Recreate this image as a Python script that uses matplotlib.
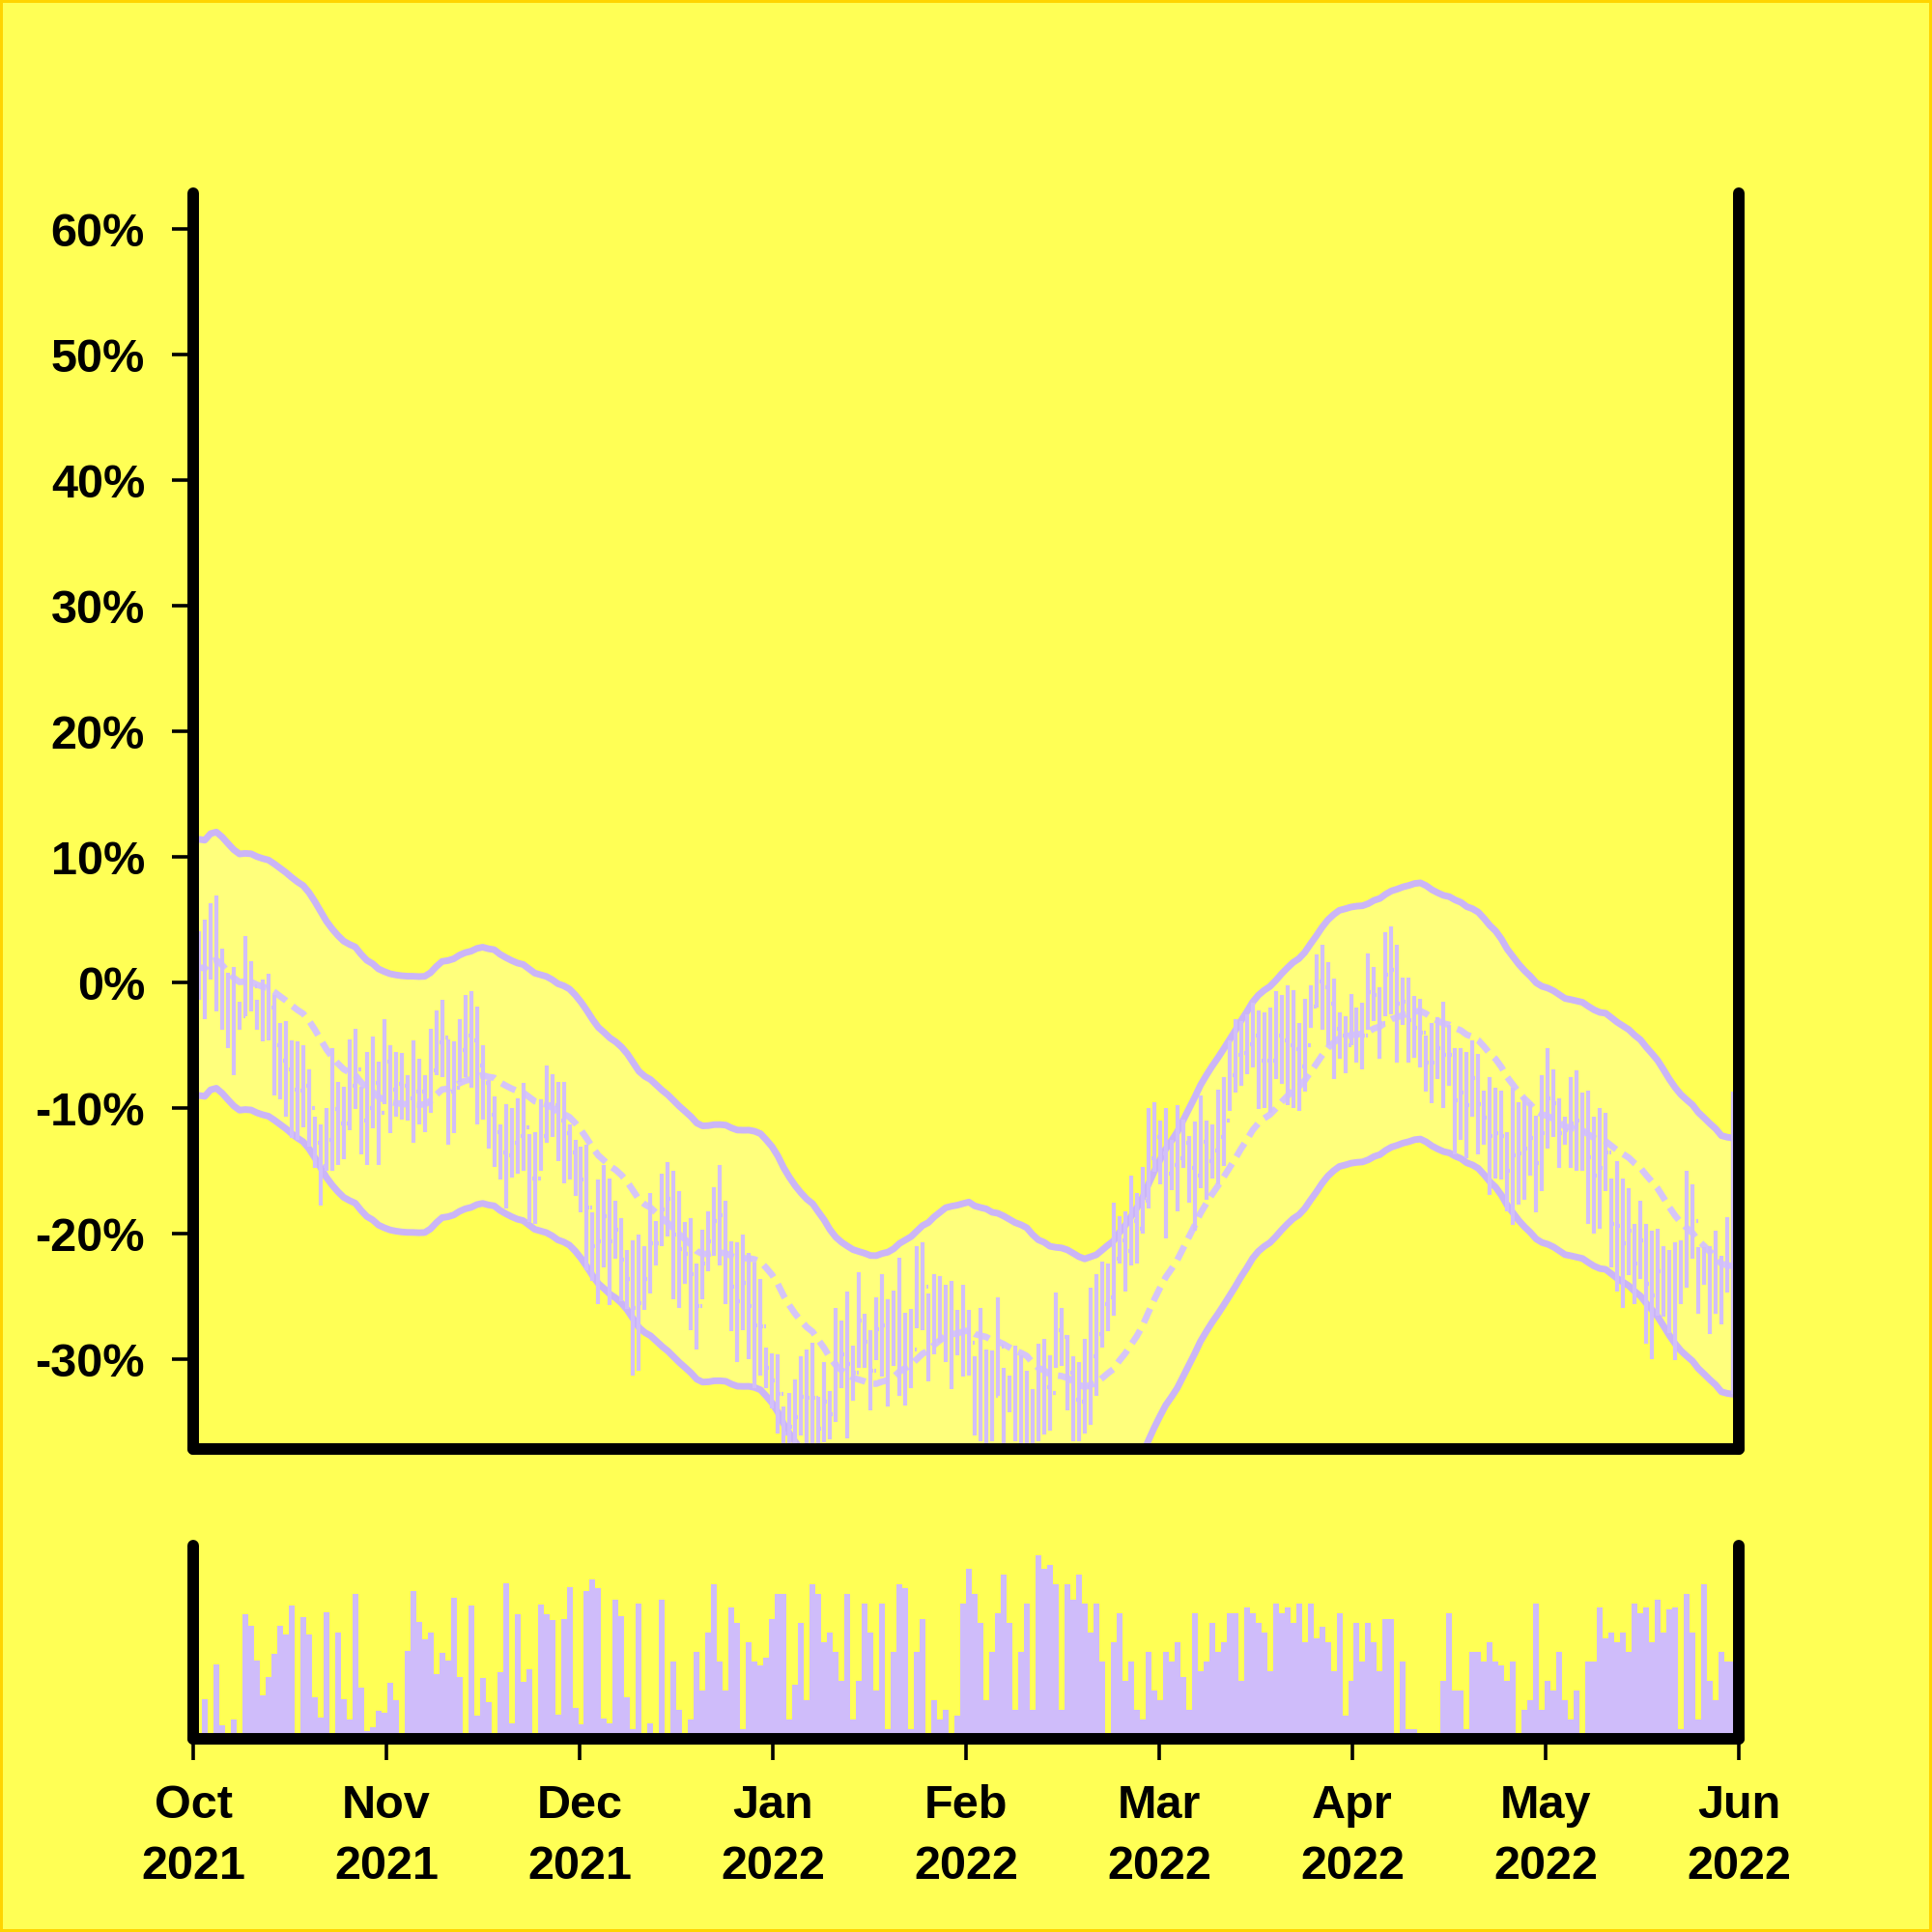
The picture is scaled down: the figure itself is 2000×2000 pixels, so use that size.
import numpy as np
import pandas as pd
import matplotlib
matplotlib.use('Agg')
import matplotlib.pyplot as plt
import matplotlib.dates as mdates
from matplotlib.ticker import FuncFormatter

# daily bars, Oct 1 2021 onwards (values in % change)
dates = pd.date_range('2021-10-01', periods=267, freq='D')

high = [4.0, 4.1, 5.0, 6.3, 6.9, 2.7, 0.8, 1.2, -1.5, 3.7,
        1.7, -1.4, 0.2, 0.7, -1.0, -3.2, -3.1, -4.6, -4.7, -5.0,
        -6.9, -10.7, -11.3, -10.0, -5.2, -7.9, -8.3, -4.5, -3.7, -8.3,
        -5.5, -4.3, -6.3, -2.9, -5.0, -5.5, -5.6, -7.4, -4.6, -6.1,
        -7.4, -3.7, -2.2, -1.4, -4.5, -4.7, -2.9, -1.0, -0.7, -1.9,
        -5.0, -7.8, -9.1, -11.3, -9.7, -10.0, -9.2, -8.0, -12.1, -11.9,
        -9.3, -6.6, -7.3, -7.9, -7.9, -11.3, -12.5, -13.1, -12.9, -18.3,
        -15.7, -14.5, -15.6, -17.4, -18.8, -21.3, -20.5, -20.1, -21.0, -16.8,
        -19.0, -15.2, -14.3, -15.0, -16.6, -19.1, -18.8, -22.4, -19.7, -18.2,
        -16.3, -14.5, -17.4, -20.6, -20.7, -20.1, -21.5, -22.3, -23.6, -29.1,
        -29.5, -29.6, -33.8, -32.7, -31.6, -29.8, -29.2, -28.7, -33.0, -30.2,
        -32.5, -25.9, -26.9, -24.6, -28.9, -23.1, -26.4, -27.7, -25.1, -23.2,
        -25.2, -24.5, -21.9, -26.3, -26.0, -21.0, -20.7, -24.8, -23.2, -23.4,
        -24.1, -23.8, -26.1, -24.1, -26.1, -29.8, -25.9, -29.2, -29.3, -25.1,
        -30.7, -31.3, -28.9, -29.7, -30.9, -32.4, -28.8, -28.4, -29.7, -24.7,
        -25.9, -28.1, -29.8, -30.2, -28.4, -24.3, -23.2, -22.2, -22.4, -17.5,
        -18.6, -18.2, -15.4, -16.8, -14.7, -10.0, -9.5, -11.0, -10.0, -12.5,
        -9.8, -10.9, -12.2, -11.1, -9.0, -11.0, -11.3, -8.5, -7.5, -4.6,
        -2.9, -3.1, -2.5, -1.6, -2.2, -2.4, -2.0, -0.7, -1.0, -0.2,
        -0.6, -3.2, -1.3, -0.2, 2.2, 3.0, 1.6, 0.3, -2.4, -2.7,
        -0.9, -2.0, -1.6, 2.3, 1.2, -0.4, 4.0, 4.5, 3.0, 0.4,
        0.4, -1.1, -1.3, -4.2, -3.2, -2.8, -1.5, -3.4, -5.2, -5.2,
        -5.5, -4.6, -5.7, -8.6, -7.5, -8.4, -8.6, -11.9, -8.4, -9.5,
        -9.1, -9.5, -10.6, -7.4, -5.2, -6.9, -9.2, -10.7, -7.5, -7.0,
        -8.8, -8.6, -10.7, -10.0, -10.4, -15.6, -14.2, -15.6, -16.4, -19.2,
        -17.4, -19.2, -19.8, -19.6, -21.0, -21.3, -20.7, -20.5, -15.0, -16.1,
        -21.1, -21.1, -21.0, -19.8, -21.8, -18.7, -8.7]

low = [-2.0, -1.4, -2.9, 0.2, -2.3, -3.8, -5.2, -7.4, -3.8, -2.7,
       -2.3, -3.8, -4.7, -4.6, -9.0, -9.3, -10.7, -12.4, -12.5, -11.5,
       -13.1, -14.8, -17.8, -15.0, -15.0, -14.5, -14.1, -11.8, -10.1, -13.7,
       -14.5, -11.6, -14.5, -9.7, -12.0, -10.7, -10.9, -11.0, -12.8, -11.3,
       -11.9, -10.4, -7.4, -7.5, -12.9, -12.0, -7.9, -7.5, -8.4, -11.3,
       -10.9, -13.2, -14.7, -15.7, -18.0, -15.5, -15.2, -15.0, -19.1, -19.2,
       -15.0, -12.8, -12.3, -14.2, -16.0, -15.7, -17.0, -18.3, -22.9, -23.8,
       -25.6, -22.7, -25.7, -22.0, -25.4, -26.0, -31.3, -30.9, -26.1, -24.8,
       -22.5, -21.0, -20.2, -25.2, -25.9, -24.0, -27.7, -29.2, -25.2, -23.0,
       -21.8, -22.5, -25.6, -27.8, -30.2, -27.7, -30.0, -32.3, -31.3, -32.3,
       -33.9, -35.9, -38.0, -38.0, -37.5, -36.1, -37.0, -37.5, -38.0, -36.6,
       -36.4, -35.0, -32.3, -36.3, -33.3, -30.7, -30.7, -34.1, -30.1, -31.4,
       -33.8, -30.5, -32.9, -33.7, -32.3, -27.5, -27.7, -31.8, -29.6, -28.7,
       -30.2, -32.4, -29.7, -31.4, -31.3, -36.1, -36.5, -37.0, -36.5, -32.9,
       -37.0, -34.2, -36.5, -37.0, -37.0, -37.5, -36.5, -36.0, -35.7, -30.7,
       -30.5, -34.1, -36.5, -36.5, -35.9, -35.2, -32.9, -29.1, -27.8, -26.5,
       -22.4, -24.6, -22.5, -22.4, -20.0, -18.0, -15.1, -16.1, -20.4, -16.5,
       -18.2, -14.8, -17.5, -19.8, -16.4, -17.3, -15.6, -16.1, -14.6, -10.2,
       -8.8, -8.2, -7.3, -6.8, -10.1, -10.0, -10.4, -7.7, -8.1, -9.8,
       -10.0, -10.2, -8.7, -3.6, -2.0, -3.8, -5.0, -7.7, -6.1, -7.2,
       -5.0, -6.4, -6.9, -3.8, -3.1, -6.1, -2.7, -2.5, -6.4, -3.4,
       -6.4, -6.0, -6.8, -8.7, -9.6, -7.7, -10.0, -8.2, -13.7, -12.5,
       -14.0, -10.7, -13.7, -12.9, -16.9, -15.6, -15.7, -18.2, -19.3, -17.7,
       -17.3, -15.4, -18.3, -16.6, -13.2, -12.3, -14.8, -12.9, -14.8, -15.0,
       -15.0, -19.2, -20.0, -19.6, -16.6, -22.7, -24.6, -25.9, -23.3, -25.6,
       -23.6, -28.8, -30.0, -26.5, -26.6, -27.9, -30.1, -25.6, -24.3, -22.0,
       -26.4, -24.1, -28.0, -26.4, -27.2, -24.7, -32.8]

close = [1.0, 1.4, 1.0, 3.2, 2.3, -0.6, -2.2, -3.1, -2.7, 0.5,
         -0.3, -2.6, -2.2, -2.0, -5.0, -6.2, -6.9, -8.5, -8.6, -8.2,
         -10.0, -12.8, -14.6, -12.5, -10.1, -11.2, -11.2, -8.2, -6.9, -11.0,
         -10.0, -8.0, -10.4, -6.3, -8.5, -8.1, -8.2, -9.2, -8.7, -8.7,
         -9.6, -7.0, -4.8, -4.4, -8.7, -8.4, -5.4, -4.2, -4.6, -6.6,
         -8.0, -10.5, -11.9, -13.5, -13.8, -12.8, -12.2, -11.5, -15.6, -15.6,
         -12.2, -9.7, -9.8, -11.0, -12.0, -13.5, -14.8, -15.7, -17.9, -21.0,
         -20.6, -18.6, -20.6, -19.7, -22.1, -23.6, -25.9, -25.5, -23.6, -20.8,
         -20.8, -18.1, -17.2, -20.1, -21.2, -21.6, -23.2, -25.8, -22.4, -20.6,
         -19.0, -18.5, -21.5, -24.2, -25.4, -23.9, -25.8, -27.3, -27.4, -30.7,
         -31.7, -32.8, -35.9, -35.4, -34.6, -33.0, -33.1, -33.1, -35.5, -33.4,
         -34.4, -30.4, -29.6, -30.4, -31.1, -26.9, -28.6, -30.9, -27.6, -27.3,
         -29.5, -27.5, -27.4, -30.0, -29.2, -24.2, -24.2, -28.3, -26.4, -26.0,
         -27.2, -28.1, -27.9, -27.8, -28.7, -33.0, -31.2, -33.1, -32.9, -29.0,
         -33.8, -32.8, -32.7, -33.4, -34.0, -35.0, -32.6, -32.2, -32.7, -27.7,
         -28.2, -31.1, -33.2, -33.4, -32.2, -29.8, -28.0, -25.6, -25.1, -22.0,
         -20.5, -21.4, -19.0, -19.6, -17.4, -14.0, -12.3, -13.6, -15.2, -14.5,
         -14.0, -12.8, -14.8, -15.4, -12.7, -14.2, -13.4, -12.3, -11.0, -7.4,
         -5.8, -5.6, -4.9, -4.2, -6.2, -6.2, -6.2, -4.2, -4.6, -5.0,
         -5.3, -6.7, -5.0, -1.9, 0.1, -0.4, -1.7, -3.7, -4.2, -5.0,
         -3.0, -4.2, -4.2, -0.8, -1.0, -3.2, 0.6, 1.0, -1.7, -1.5,
         -3.0, -3.6, -4.0, -6.4, -6.4, -5.2, -5.8, -5.8, -9.4, -8.8,
         -9.8, -7.6, -9.7, -10.8, -12.2, -12.0, -12.2, -15.0, -13.8, -13.6,
         -13.2, -12.4, -14.4, -12.0, -9.2, -9.6, -12.0, -11.8, -11.2, -11.0,
         -11.9, -13.9, -15.4, -14.8, -13.5, -19.2, -19.4, -20.8, -19.8, -22.4,
         -20.5, -24.0, -24.9, -23.0, -23.8, -24.6, -25.4, -23.0, -19.6, -19.0,
         -23.8, -22.6, -24.5, -23.1, -24.5, -21.7, -20.8]

# volume, relative units (no scale shown on the chart)
volume = [5, 1.7, 20.3, 0, 38.6, 6.9, 0, 9.8, 1.4, 64.3,
          58.3, 40.3, 22.6, 32.2, 44.1, 58.6, 54.1, 69.0, 0, 62.8,
          54.1, 21.4, 11.0, 65.7, 0, 55.2, 20.7, 10.2, 75.0, 26.7,
          4.0, 5.9, 14.5, 13.3, 29.0, 20.0, 2.6, 45.5, 76.6, 60.3,
          51.6, 55.0, 33.6, 44.7, 40.5, 72.9, 32.2, 0, 68.8, 12.1,
          31.7, 18.8, 2.2, 34.7, 80.7, 8.1, 64.7, 29.7, 36.2, 2.1,
          69.7, 64.3, 61.7, 12.6, 61.9, 78.4, 16.2, 7.4, 76.7, 82.4,
          78.1, 10.3, 7.9, 72.2, 63.3, 21.4,
          5, 70, 0, 8, 0, 72, 0, 40, 15, 0, 10,
          45, 25, 55, 80, 40, 25, 68, 60, 5, 50, 40, 38, 42, 62,
          75, 75, 10, 28, 60, 20, 80, 75, 50, 55, 45, 30, 75, 10, 30,
          70, 55, 25, 70, 5, 45, 80, 78, 5, 45, 62, 0, 20, 10, 15,
          0, 12, 70, 88, 75, 60, 20, 45, 65, 85, 60, 15, 45, 70, 15,
          95, 88, 90, 80, 15, 80, 72, 85, 70, 55, 70, 40, 0, 50, 65,
          30, 40, 15, 10, 45, 25, 20, 45, 40, 50, 32, 15, 65, 35, 40,
          60, 45, 50, 65, 65, 30, 68, 65, 60, 55, 35, 70, 65, 68, 60,
          70, 50, 70, 52, 58, 50, 35, 65, 12, 30, 60, 40, 60, 50, 35,
          62, 62, 0, 40, 5, 5, 3, 2, 3, 0, 30, 65, 25, 25, 5,
          45, 45, 40, 50, 40, 38, 30, 40, 0, 15, 20, 70, 15, 30, 25,
          45, 20, 10, 25, 0, 40, 40, 68, 52, 55, 50, 55, 45, 70, 65,
          68, 50, 72, 55, 67, 68, 5, 75, 55, 10, 80, 30, 20, 45, 40, 40]

ma_window = 20
band_half = 10.2   # envelope half width, % points

BG = '#FFFF55'
FILL = '#FFFF7C'
LAV = '#CBB5F7'
BAR_C = '#D2BFFA'
MA_C = '#D6C5F8'
VOL_C = '#CFBCFA'

plt.rcParams['font.family'] = ['Liberation Sans', 'DejaVu Sans']
plt.rcParams['font.weight'] = 'bold'
plt.rcParams['font.size'] = 17.5

x = mdates.date2num(dates)
close = np.array(close)
ma = pd.Series(close).rolling(ma_window, min_periods=1).mean().values
upper = ma + band_half
lower = ma - band_half
opens = np.r_[close[0], close[:-1]]  # open taken as previous close

fig = plt.figure(figsize=(10, 10), dpi=200, facecolor=BG,
                 edgecolor='#FFD400', linewidth=1.5)
ax = fig.add_axes([0.1, 0.25, 0.8, 0.65])
axv = fig.add_axes([0.1, 0.1, 0.8, 0.1])

ax.set_facecolor(BG)
axv.set_facecolor(BG)

# everything below the spines (zorder 2.5)
ax.fill_between(x, lower, upper, color=FILL, lw=0, zorder=1)
ax.plot(x, upper, color=LAV, lw=2.5, zorder=2.0, solid_capstyle='round')
ax.plot(x, lower, color=LAV, lw=2.5, zorder=2.0, solid_capstyle='round')
ax.plot(x, ma, color=MA_C, lw=2.4, ls=(0, (2.4, 1.3)), zorder=2.1)
ax.vlines(x, low, high, color=BAR_C, lw=1.5, zorder=2.2)
ax.hlines(opens, x - 0.4, x, color=BAR_C, lw=1.5, zorder=2.2)
ax.hlines(close, x, x + 0.4, color=BAR_C, lw=1.5, zorder=2.2)

axv.bar(x, volume, width=1.0, color=VOL_C, lw=0, zorder=2)

x0 = x[0]
x1 = x[0] + len(x)
for a in (ax, axv):
    a.set_xlim(x0, x1)
    a.spines['top'].set_visible(False)
    for s in ('left', 'right', 'bottom'):
        a.spines[s].set_linewidth(4.3)
        a.spines[s].set_color('black')
        a.spines[s].set_capstyle('round')

ax.set_ylim(-37.15, 62.85)
ax.set_yticks(np.arange(-30, 61, 10))
ax.yaxis.set_major_formatter(FuncFormatter(lambda v, p: f'{v:.0f}%'))
ax.tick_params(axis='y', length=8, width=1.3, pad=10)
ax.tick_params(axis='x', bottom=False, labelbottom=False)

axv.set_ylim(0, 100)
axv.set_yticks([])
ticks = np.linspace(x0, x1, 9)
labels = [mdates.num2date(t).strftime('%b\n%Y') for t in ticks]
axv.set_xticks(ticks, labels=labels, linespacing=1.5)
axv.tick_params(axis='x', length=8, width=1.3, pad=9)

fig.savefig('out.png', dpi=200, facecolor=BG, edgecolor='#FFD400')
